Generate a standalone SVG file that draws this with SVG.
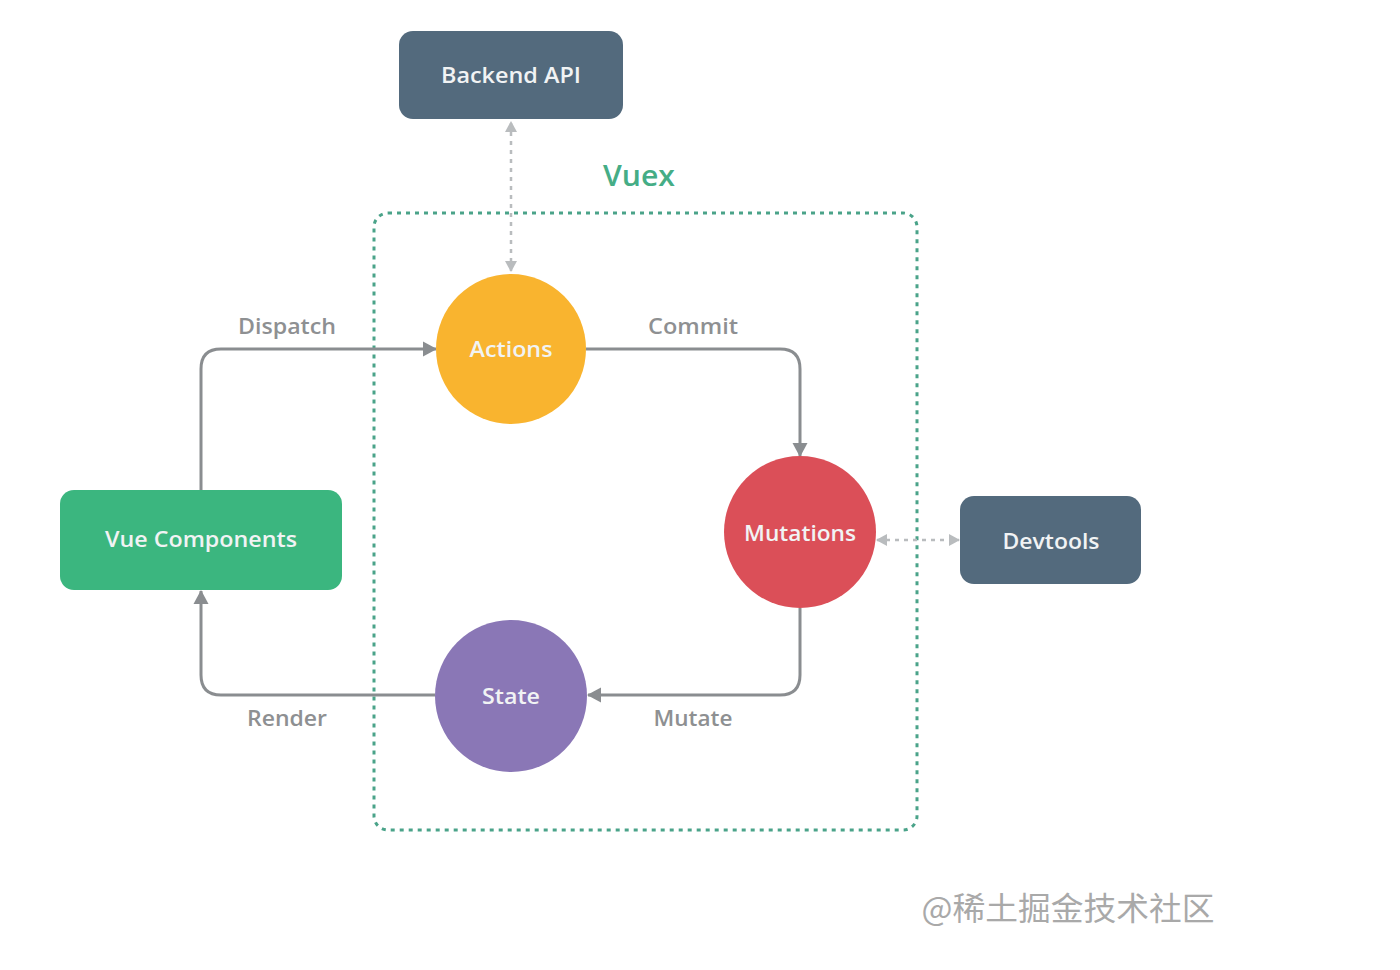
<svg xmlns="http://www.w3.org/2000/svg" width="1400" height="970" viewBox="0 0 1400 970">
<style>
.lbl{font-family:"Open Sans","Liberation Sans",sans-serif;font-weight:600;text-anchor:middle}
.node{fill:#f1f3f4;font-size:21px}
.edge{fill:#8e9092;font-size:21px}
.conn{fill:none;stroke:#8a8d90;stroke-width:3}
.dash{fill:none;stroke:#b9bcbe;stroke-width:2.5;stroke-dasharray:4 5}
</style>
<defs>
<marker id="arr" markerUnits="userSpaceOnUse" markerWidth="18" markerHeight="18" refX="14" refY="9" orient="auto">
<path d="M1,1.5 L15,9 L1,16.5 Z" fill="#8a8d90"/>
</marker>
<marker id="arrL" markerUnits="userSpaceOnUse" markerWidth="14" markerHeight="14" refX="11" refY="7" orient="auto-start-reverse">
<path d="M1,1 L12,7 L1,13 Z" fill="#b9bcbe"/>
</marker>
</defs>
<rect width="1400" height="970" fill="#ffffff"/>

<g id="vuex">
<rect x="374" y="213" width="543" height="617" rx="14" fill="none" stroke="#4aa389" stroke-width="3" stroke-dasharray="4 5"/>
<text x="639" y="186" font-family="Open Sans, Liberation Sans, sans-serif" font-weight="600" font-size="29" fill="#45ad86" text-anchor="middle" textLength="72" lengthAdjust="spacingAndGlyphs">Vuex</text>
</g>

<g id="connectors">
<path class="conn" d="M201,490 V369 Q201,349 221,349 H436" marker-end="url(#arr)"/>
<path class="conn" d="M586,349 H780 Q800,349 800,369 V456" marker-end="url(#arr)"/>
<path class="conn" d="M800,608 V675 Q800,695 780,695 H588" marker-end="url(#arr)"/>
<path class="conn" d="M435,695 H221 Q201,695 201,675 V591" marker-end="url(#arr)"/>
<path class="dash" d="M511,271 V122" marker-start="url(#arrL)" marker-end="url(#arrL)"/>
<path class="dash" d="M877,540 H959" marker-start="url(#arrL)" marker-end="url(#arrL)"/>
<text class="lbl edge" x="287" y="334" textLength="98" lengthAdjust="spacingAndGlyphs">Dispatch</text>
<text class="lbl edge" x="693" y="334" textLength="90" lengthAdjust="spacingAndGlyphs">Commit</text>
<text class="lbl edge" x="287" y="726" textLength="80" lengthAdjust="spacingAndGlyphs">Render</text>
<text class="lbl edge" x="693" y="726" textLength="79" lengthAdjust="spacingAndGlyphs">Mutate</text>
</g>

<g id="backend-api">
<rect x="399" y="31" width="224" height="88" rx="14" fill="#536a7d"/>
<text class="lbl node" x="511" y="83" textLength="140" lengthAdjust="spacingAndGlyphs">Backend API</text>
</g>

<g id="actions">
<circle cx="511" cy="349" r="75" fill="#f9b42f"/>
<text class="lbl node" x="511" y="357" textLength="83" lengthAdjust="spacingAndGlyphs">Actions</text>
</g>

<g id="mutations">
<circle cx="800" cy="532" r="76" fill="#db4f58"/>
<text class="lbl node" x="800" y="541" textLength="112" lengthAdjust="spacingAndGlyphs">Mutations</text>
</g>

<g id="state">
<circle cx="511" cy="696" r="76" fill="#8a77b6"/>
<text class="lbl node" x="511" y="704" textLength="58" lengthAdjust="spacingAndGlyphs">State</text>
</g>

<g id="vue-components">
<rect x="60" y="490" width="282" height="100" rx="14" fill="#3bb67f"/>
<text class="lbl node" x="201" y="547" textLength="192" lengthAdjust="spacingAndGlyphs">Vue Components</text>
</g>

<g id="devtools">
<rect x="960" y="496" width="181" height="88" rx="14" fill="#536a7d"/>
<text class="lbl node" x="1051" y="549" textLength="97" lengthAdjust="spacingAndGlyphs">Devtools</text>
</g>

<text x="1068" y="920" font-family="Noto Sans CJK SC, sans-serif" font-size="32" fill="#a9a9a9" text-anchor="middle" textLength="293" lengthAdjust="spacingAndGlyphs">@稀土掘金技术社区</text>
</svg>
